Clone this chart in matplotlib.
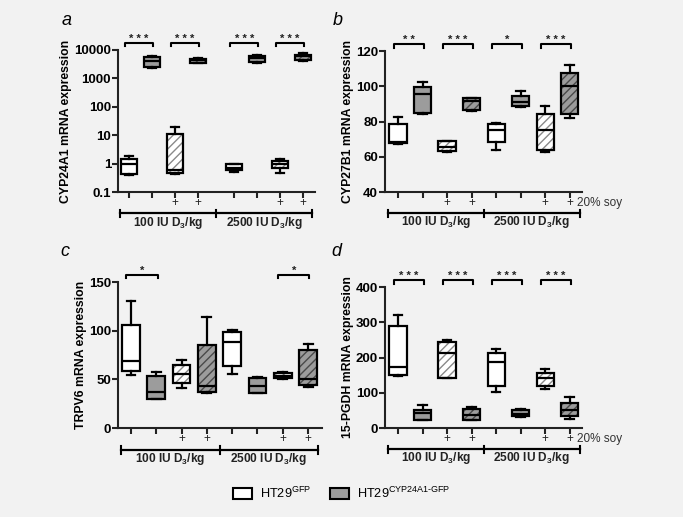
import matplotlib
matplotlib.use('Agg')
import matplotlib.pyplot as plt
import matplotlib.transforms as mtransforms
from matplotlib.patches import Patch, PathPatch
from matplotlib.ticker import NullLocator

plt.rcParams['font.family'] = 'Liberation Sans'
plt.rcParams['mathtext.fontset'] = 'custom'
plt.rcParams['mathtext.rm'] = 'Liberation Sans'
plt.rcParams['mathtext.bf'] = 'Liberation Sans:bold'
plt.rcParams['hatch.linewidth'] = 1.0

# box order: GFP, CYP24A1-GFP, GFP+soy, CYP24A1-GFP+soy (100 IU, then 2500 IU)
# each box: whisker low, q1, median, q3, whisker high
cyp24a1 = [[0.40, 0.42, 0.95, 1.4, 1.8],
           [2300, 2500, 4100, 5800, 6300],
           [0.43, 0.47, 0.60, 11, 20],
           [3500, 3600, 4300, 5000, 5300],
           [0.52, 0.60, 0.72, 0.95, 1.0],
           [3600, 3900, 5200, 6300, 6800],
           [0.48, 0.68, 1.0, 1.28, 1.46],
           [4000, 4400, 6000, 6900, 7600]]
cyp27b1 = [[67.4, 67.8, 68.5, 78.8, 82.5],
           [84, 85, 95.8, 99.5, 102.6],
           [62.5, 63.3, 65.5, 68.9, 68.9],
           [86, 86.5, 91.6, 93.1, 93.5],
           [64, 68.5, 75, 78.8, 79.1],
           [88.2, 89, 91.2, 94.3, 97.3],
           [62.9, 63.8, 75, 84, 88.6],
           [81.8, 84, 100.3, 107.3, 111.8]]
trpv6 = [[54.5, 59, 69, 106, 130],
         [29.5, 29.5, 36.6, 53.8, 57.5],
         [41, 46, 55.5, 64.7, 70],
         [36, 36.6, 43.5, 85.3, 114],
         [55.5, 64, 88.4, 99, 100.3],
         [35.6, 36, 43.5, 51, 52.4],
         [50.3, 51, 53.8, 56.5, 57.2],
         [42, 44.5, 50.7, 80, 86.6]]
pgdh = [[148, 150, 172, 289, 322],
        [22.6, 23.5, 42, 50, 66],
        [141, 142, 214, 245, 249],
        [22.6, 23.5, 38, 55, 60],
        [102, 120, 187, 214, 223],
        [31, 33, 41, 50, 54],
        [112, 120, 141, 157, 168],
        [26, 33, 50, 71, 88]]

pos_a = [1, 2, 3, 4, 5.6, 6.6, 7.6, 8.6]
pos_bcd = [1, 2, 3, 4, 5, 6, 7, 8]
soy = ['', '', '+', '+', '', '', '+', '+']
fills = ['white', '#9c9c9c', 'white', '#9c9c9c'] * 2
hatch_cols = [None, None, '#8a8a8a', '#4a4a4a'] * 2

sig_a = [(0, 1, '* * *'), (2, 3, '* * *'), (4, 5, '* * *'), (6, 7, '* * *')]
sig_b = [(0, 1, '* *'), (2, 3, '* * *'), (4, 5, '*'), (6, 7, '* * *')]
sig_c = [(0, 1, '*'), (6, 7, '*')]
sig_d = [(0, 1, '* * *'), (2, 3, '* * *'), (4, 5, '* * *'), (6, 7, '* * *')]

groups = ['100 IU D$_\\mathbf{3}$/kg', '2500 IU D$_\\mathbf{3}$/kg']


def draw_panel(ax, data, pos, ylim, yticks, yticklabels, ylabel, sig, xlim,
               log=False, soy_text=False):
    stats = [dict(whislo=d[0], q1=d[1], med=d[2], q3=d[3], whishi=d[4], fliers=[])
             for d in data]
    if log:
        ax.set_yscale('log')
    res = ax.bxp(stats, positions=pos, widths=0.7, capwidths=0.35, patch_artist=True,
                 showfliers=False, manage_ticks=False,
                 boxprops=dict(linewidth=1.6, edgecolor='black'),
                 whiskerprops=dict(linewidth=1.6, color='black'),
                 capprops=dict(linewidth=1.6, color='black'),
                 medianprops=dict(linewidth=1.6, color='black'))
    for box, fc, hc in zip(res['boxes'], fills, hatch_cols):
        box.set_facecolor(fc)
        if hc is not None:
            box.set_hatch('////')
            box.set_edgecolor(hc)
            box.set_linewidth(0)
            ax.add_patch(PathPatch(box.get_path(), facecolor='none', edgecolor='black',
                                   linewidth=1.6, zorder=box.get_zorder()))

    ax.set_xlim(*xlim)
    ax.set_ylim(*ylim)
    ax.set_yticks(yticks)
    ax.set_yticklabels(yticklabels, fontweight='bold', fontsize=9.5)
    ax.yaxis.set_minor_locator(NullLocator())
    ax.set_xticks(pos)
    ax.set_xticklabels([])
    ax.tick_params(axis='both', length=4, width=1.5, color='#222222', pad=1)
    ax.set_ylabel(ylabel, fontsize=8.8, fontweight='bold', labelpad=1.5)
    for s in ['top', 'right']:
        ax.spines[s].set_visible(False)
    for s in ['left', 'bottom']:
        ax.spines[s].set_linewidth(1.5)
        ax.spines[s].set_color('#222222')
    ax.set_facecolor('none')

    trans = mtransforms.blended_transform_factory(ax.transData, ax.transAxes)

    # significance brackets
    for i, j, label in sig:
        x1, x2 = pos[i] - 0.18, pos[j] + 0.05
        ax.plot([x1, x1, x2, x2], [1.025, 1.05, 1.05, 1.025], transform=trans,
                color='black', linewidth=1.5, clip_on=False)
        ax.text((x1 + x2) / 2, 1.058, label, transform=trans, ha='center',
                va='baseline', fontsize=8, fontweight='bold', color='#222222')

    # soy markers and dose bar
    for p, s in zip(pos, soy):
        if s:
            ax.text(p, -0.075, s, transform=trans, ha='center', va='center',
                    fontsize=8.5, color='#222222')
    if soy_text:
        ax.text(pos[7] + 0.3, -0.075, '20% soy', transform=trans, ha='left',
                va='center', fontsize=8.5, color='#333333')
    lo, mid, hi = pos[0] - 0.4, (pos[3] + pos[4]) / 2, pos[7] + 0.4
    yb = -0.15
    ax.plot([lo, hi], [yb, yb], transform=trans, color='black', linewidth=1.6,
            clip_on=False)
    for x in (lo, mid, hi):
        ax.plot([x, x], [yb - 0.025, yb + 0.025], transform=trans, color='black',
                linewidth=1.5, clip_on=False)
    for xc, g in zip([(lo + mid) / 2, (mid + hi) / 2], groups):
        ax.text(xc, -0.215, g, transform=trans, ha='center', va='center',
                fontsize=8.6, fontweight='bold', color='#222222')


fig = plt.figure(figsize=(6.83, 5.17), dpi=100, facecolor='#f2f2f2')

ax_a = fig.add_axes([0.1728, 0.6286, 0.2884, 0.2747])
ax_b = fig.add_axes([0.5637, 0.6286, 0.2884, 0.2727])
ax_c = fig.add_axes([0.1728, 0.1721, 0.2987, 0.2824])
ax_d = fig.add_axes([0.5637, 0.1721, 0.2884, 0.2727])

draw_panel(ax_a, cyp24a1, pos_a, (0.1, 10000), [0.1, 1, 10, 100, 1000, 10000],
           ['0.1', '1', '10', '100', '1000', '10000'], 'CYP24A1 mRNA expression',
           sig_a, (0.52, 9.12), log=True)
draw_panel(ax_b, cyp27b1, pos_bcd, (40, 120), [40, 60, 80, 100, 120],
           ['40', '60', '80', '100', '120'], 'CYP27B1 mRNA expression',
           sig_b, (0.47, 8.5), soy_text=True)
draw_panel(ax_c, trpv6, pos_bcd, (0, 150), [0, 50, 100, 150],
           ['0', '50', '100', '150'], 'TRPV6 mRNA expression',
           sig_c, (0.49, 8.55))
draw_panel(ax_d, pgdh, pos_bcd, (0, 400), [0, 100, 200, 300, 400],
           ['0', '100', '200', '300', '400'], '15-PGDH mRNA expression',
           sig_d, (0.47, 8.5), soy_text=True)

for letter, x, y in [('a', 0.098, 0.961), ('b', 0.495, 0.961),
                     ('c', 0.095, 0.513), ('d', 0.493, 0.513)]:
    fig.text(x, y, letter, fontsize=13, style='italic', ha='center', va='center')

handles = [Patch(facecolor='white', edgecolor='black', linewidth=1.5),
           Patch(facecolor='#9c9c9c', edgecolor='black', linewidth=1.5)]
labels = ['HT29$^{\\mathrm{GFP}}$', 'HT29$^{\\text{CYP24A1-GFP}}$']
fig.legend(handles, labels, loc='center', bbox_to_anchor=(0.50, 0.046), ncol=2,
           frameon=False, fontsize=9.2, handlelength=1.5, handleheight=1.0,
           handletextpad=0.6, columnspacing=1.5)

fig.savefig('out.png', dpi=100, facecolor=fig.get_facecolor())
